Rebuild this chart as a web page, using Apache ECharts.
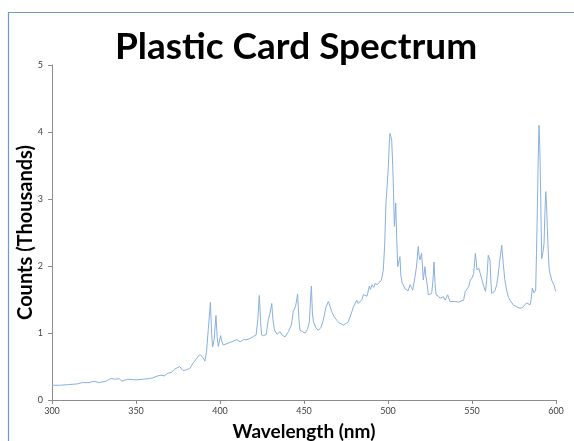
<!DOCTYPE html>
<html>
<head>
<meta charset="utf-8">
<script src="https://cdn.jsdelivr.net/npm/echarts@6/dist/echarts.min.js"></script>
<style>
html,body{margin:0;padding:0;background:#fff;}
#chart{width:574px;height:441px;}
</style>
</head>
<body>
<div id="chart"></div>
<script>
// Wavelength (nm) and counts (thousands)
var wavelengths = [300,305,310,315,318,322,325,328,332,335,338,340,341.5,345,350,354,358,360,363,365,367,369,371,373,376,377,378,380,382,384,386,388,389,390,391,392,393,394.3,395,395.6,396.5,397.6,398.3,399,400.4,401,402,404,406,408,410,412,414,416,418,420,421.5,422.5,423.4,424.2,424.8,426,427.5,428.8,429.8,430.8,431.5,432.5,434,435.7,437,438.7,440.7,442.5,443.6,445,446.2,447,447.6,449,450.6,452,453.2,453.8,454.4,455,455.6,457,458.5,460,461.5,463,464.5,465.5,466.5,468,469.5,471,472,473.4,475,476.4,478,479.4,481.4,482.3,483.3,484.5,485.3,486.3,487.5,488.9,489.5,490.5,491.5,492.3,493.5,494.5,495.2,496,497.2,498,498.8,499.5,500.2,500.8,501.2,501.8,502.2,502.8,503.2,503.8,504.6,505.2,505.8,506.5,507.1,507.7,508.5,509.5,510,511.1,512,513.1,514,514.7,516.1,517,518,518.5,519,520,520.5,521,522,522.5,523,524,525,526,526.8,527.4,528,528.6,530,531,533,534,535.5,536.9,538,540,541,542,543,545,546,548,549,550,551,552,552.6,553,554,555,556,557,558,558.8,559.7,560.7,561.2,561.7,562.7,563.5,564.7,565.5,566.3,567.7,568.6,569.5,570.6,571.5,572.6,574.6,576.6,578.6,580,581,582.5,583.5,584.5,585.2,585.9,586.9,587.9,588.4,588.9,589.4,589.9,590.3,590.7,591.1,591.5,592.2,592.9,593.4,593.9,594.4,594.8,595.4,596,597.4,598.8,599.8];
var counts = [0.22,0.22,0.23,0.24,0.26,0.26,0.28,0.26,0.28,0.32,0.31,0.32,0.28,0.31,0.30,0.31,0.32,0.33,0.36,0.37,0.36,0.40,0.41,0.46,0.50,0.50,0.44,0.45,0.47,0.55,0.62,0.68,0.66,0.63,0.58,0.72,1.05,1.46,1.00,0.79,0.90,1.26,0.95,0.80,0.96,0.88,0.82,0.84,0.86,0.88,0.90,0.87,0.90,0.90,0.92,0.95,0.97,1.20,1.56,1.15,0.97,0.96,0.98,1.20,1.30,1.44,1.20,1.04,0.98,1.02,0.97,0.94,1.02,1.12,1.32,1.40,1.58,1.20,1.04,1.02,1.00,1.05,1.17,1.45,1.70,1.30,1.17,1.08,1.04,1.08,1.19,1.38,1.47,1.40,1.32,1.24,1.19,1.15,1.17,1.12,1.14,1.17,1.28,1.39,1.49,1.44,1.42,1.50,1.57,1.59,1.55,1.70,1.65,1.72,1.68,1.74,1.72,1.75,1.73,1.78,1.94,2.30,2.94,3.20,3.48,3.85,3.98,3.98,3.88,3.50,3.18,2.59,2.94,2.40,1.99,2.00,2.14,1.85,1.74,1.70,1.66,1.67,1.63,1.72,1.68,1.64,1.84,2.00,2.29,2.15,2.09,2.19,2.00,1.79,1.99,1.85,1.79,1.57,1.58,1.59,1.80,2.06,1.75,1.57,1.55,1.52,1.54,1.49,1.57,1.47,1.49,1.47,1.48,1.46,1.47,1.49,1.62,1.69,1.79,1.82,1.89,2.19,2.05,1.94,1.97,1.88,1.79,1.70,1.62,1.80,2.16,2.09,1.80,1.59,1.57,1.62,1.72,1.85,2.04,2.31,2.04,1.80,1.64,1.55,1.49,1.42,1.39,1.37,1.38,1.40,1.45,1.44,1.42,1.50,1.67,1.60,1.64,2.20,2.84,3.60,4.10,3.80,3.33,2.70,2.11,2.20,2.34,2.80,3.11,2.90,2.59,2.20,1.94,1.79,1.72,1.62];
var xTicks = {min: 300, max: 600, interval: 50};
var yTicks = {min: 0, max: 5, interval: 1};
var titleText = 'Plastic Card Spectrum';
var xName = 'Wavelength (nm)';
var yName = 'Counts (Thousands)';

var seriesData = wavelengths.map(function (w, i) { return [w, counts[i]]; });

var chart = echarts.init(document.getElementById('chart'), null, {renderer: 'canvas'});
var font = 'Lato, "Open Sans", sans-serif';
chart.setOption({
  animation: false,
  backgroundColor: '#ffffff',
  graphic: [{
    type: 'polyline',
    shape: {points: [[8.5, 441], [8.5, 12.5], [574, 12.5]]},
    style: {stroke: '#6d9bd1', lineWidth: 1.2, fill: null},
    silent: true
  }],
  title: {
    text: titleText,
    left: 291,
    top: 24,
    textAlign: 'center',
    textStyle: {fontFamily: font, fontWeight: 'bold', fontSize: 37, color: '#000'}
  },
  grid: {left: 52, right: 18, top: 65, bottom: 41, containLabel: false, outerBoundsMode: 'none'},
  xAxis: {
    type: 'value',
    min: xTicks.min, max: xTicks.max, interval: xTicks.interval,
    name: xName,
    nameLocation: 'middle',
    nameGap: 22,
    nameMoveOverlap: false,
    nameTextStyle: {fontFamily: font, fontWeight: 'bold', fontSize: 19, color: '#000'},
    axisLine: {show: true, lineStyle: {color: '#8c8c8c', width: 1}},
    axisTick: {show: true, inside: false, length: 4, lineStyle: {color: '#8c8c8c'}},
    axisLabel: {fontFamily: font, fontSize: 9, color: '#404040', margin: 7},
    splitLine: {show: false}
  },
  yAxis: {
    type: 'value',
    min: yTicks.min, max: yTicks.max, interval: yTicks.interval,
    name: yName,
    nameLocation: 'middle',
    nameGap: 16,
    nameMoveOverlap: false,
    nameTextStyle: {fontFamily: font, fontWeight: 'bold', fontSize: 20, color: '#000'},
    axisLine: {show: true, lineStyle: {color: '#8c8c8c', width: 1}},
    axisTick: {show: true, inside: false, length: 4, lineStyle: {color: '#8c8c8c'}},
    axisLabel: {fontFamily: font, fontSize: 9, color: '#404040', margin: 9},
    splitLine: {show: false}
  },
  series: [{
    type: 'line',
    data: seriesData,
    showSymbol: false,
    symbol: 'none',
    lineStyle: {color: '#8ab0de', width: 1},
    smooth: false
  }]
});
</script>
</body>
</html>
